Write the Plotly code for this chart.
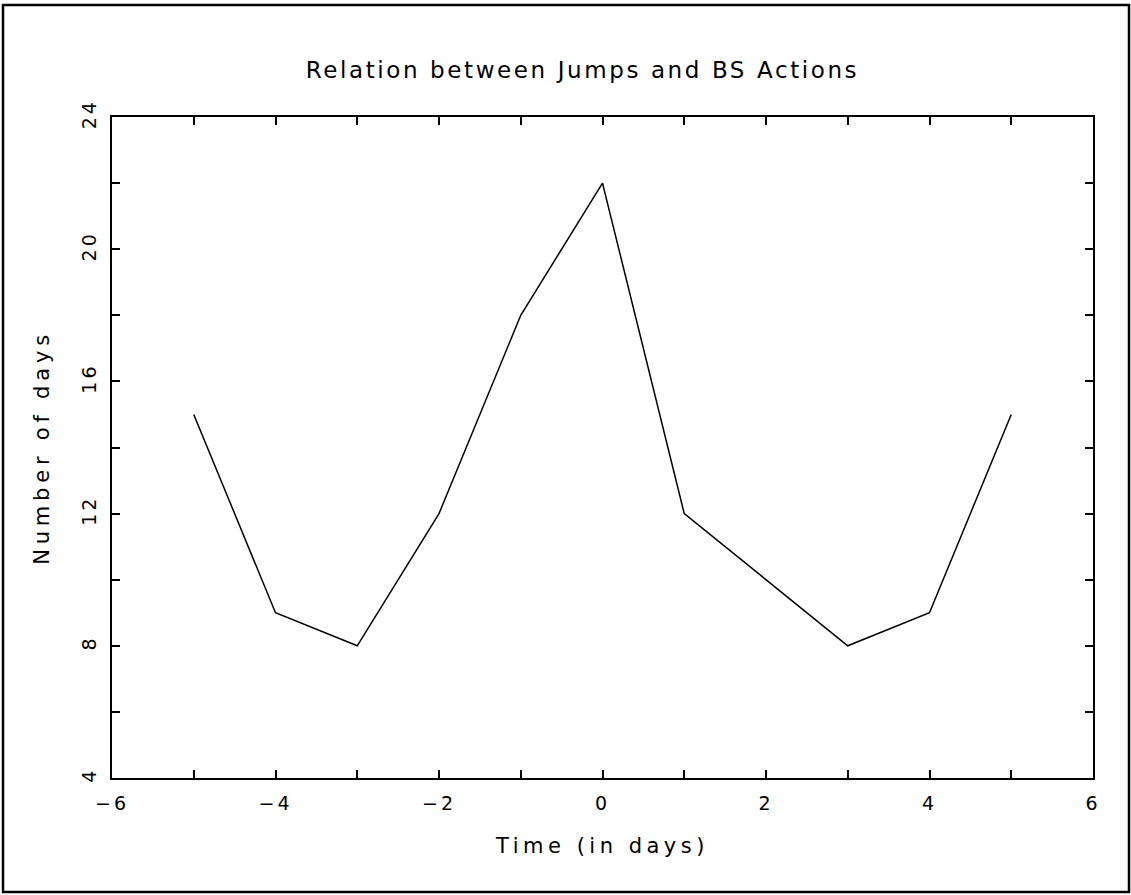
import plotly.graph_objects as go

days = [-5, -4, -3, -2, -1, 0, 1, 2, 3, 4, 5]
counts = [15, 9, 8, 12, 18, 22, 12, 10, 8, 9, 15]

x_tick_vals = [-6, -4, -2, 0, 2, 4, 6]
x_tick_text = ["\u22126", "\u22124", "\u22122", "0", "2", "4", "6"]
y_tick_vals = [4, 8, 12, 16, 20, 24]
y_tick_text = ["4", "8", "12", "16", "20", "24"]

title_text = "Relation between Jumps and BS Actions"
x_title = "Time (in days)"
y_title = "Number of days"

W, H = 1131, 895
L, R, T, B = 112, 38, 117, 117

def spaced(s, sp):
    return "<span style='letter-spacing:%gpx'>%s</span>" % (sp, s)

fig = go.Figure()
fig.add_trace(go.Scatter(x=days, y=counts, mode="lines",
                         line=dict(color="black", width=1.5), showlegend=False))

font = "DejaVu Sans, Liberation Sans, sans-serif"
axis_common = dict(showgrid=False, zeroline=False, showline=True, linecolor="black",
                   linewidth=2, mirror="ticks", ticks="inside", ticklen=8,
                   tickcolor="black", tickwidth=1.5,
                   tickfont=dict(family=font, size=19, color="black"))

fig.update_xaxes(range=[-6, 6], tickmode="array", tickvals=x_tick_vals,
                 ticktext=[spaced(t, 3) for t in x_tick_text], ticklabelstandoff=7,
                 minor=dict(dtick=1, tick0=-6, ticks="inside", ticklen=8, tickcolor="black", tickwidth=1.5),
                 title=dict(text=spaced(x_title, 4.5), font=dict(family=font, size=21, color="black"),
                            standoff=26),
                 **axis_common)
fig.update_yaxes(range=[4, 24], tickmode="array", tickvals=y_tick_vals,
                 ticktext=[spaced(t, 3) for t in y_tick_text], tickangle=-90,
                 ticklabelstandoff=6,
                 minor=dict(dtick=2, tick0=4, ticks="inside", ticklen=8, tickcolor="black", tickwidth=1.5),
                 title=dict(text=spaced(y_title, 4.8), font=dict(family=font, size=21, color="black"),
                            standoff=23),
                 **axis_common)

pw, ph = W - L - R, H - T - B
def px(x):
    return (x - L) / pw
def py(y):
    return (H - B - y) / ph

fig.add_shape(type="rect", xref="paper", yref="paper",
              x0=px(3), x1=px(1129), y0=py(892), y1=py(5),
              line=dict(color="black", width=2.5), fillcolor="rgba(0,0,0,0)")

fig.update_layout(
    width=W, height=H,
    margin=dict(l=L, r=R, t=T, b=B),
    paper_bgcolor="white", plot_bgcolor="white",
    title=dict(text=spaced(title_text, 2.6), x=0.515, xanchor="center",
               y=1 - 70 / H, yanchor="middle",
               font=dict(family=font, size=23, color="black")),
)

fig.write_html("out.html")
